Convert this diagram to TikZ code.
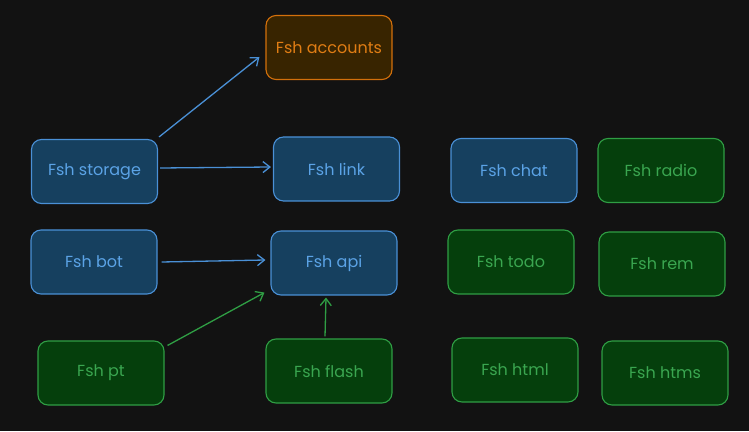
\documentclass[tikz,border=0pt]{standalone}
\usepackage{fontspec}
\setmainfont{Poppins}
\usetikzlibrary{arrows.meta}
\definecolor{bg}{HTML}{121212}
\definecolor{bluefill}{HTML}{16405F}
\definecolor{bluestroke}{HTML}{4A90D6}
\definecolor{bluetext}{HTML}{5BA3E6}
\definecolor{greenfill}{HTML}{053F0C}
\definecolor{greenstroke}{HTML}{2F9E44}
\definecolor{greentext}{HTML}{3AA650}
\definecolor{orangefill}{HTML}{382400}
\definecolor{orangestroke}{HTML}{D3700B}
\definecolor{orangetext}{HTML}{E07D14}
\tikzset{
  x=1pt,y=1pt,
  box/.style={rounded corners=10pt, minimum width=126pt, minimum height=64pt, line width=1.1pt, inner sep=0pt, font=\fontsize{16}{18}\selectfont},
  bluebox/.style={box, draw=bluestroke, fill=bluefill, text=bluetext},
  greenbox/.style={box, draw=greenstroke, fill=greenfill, text=greentext},
  orangebox/.style={box, draw=orangestroke, fill=orangefill, text=orangetext},
  bluearrow/.style={draw=bluestroke, line width=1.3pt, -{Straight Barb[length=7pt,width=11pt]}},
  greenarrow/.style={draw=greenstroke, line width=1.3pt, -{Straight Barb[length=7pt,width=11pt]}},
}
\begin{document}
\begin{tikzpicture}
\fill[bg] (0,0) rectangle (749,431);
\useasboundingbox (0,0) rectangle (749,431);
\node[orangebox] (accounts) at (329,383.5) {Fsh accounts};
\node[bluebox] (storage) at (94.5,259.5) {Fsh storage};
\node[bluebox] (link) at (336.5,262) {Fsh link};
\node[bluebox] (chat) at (514,260.5) {Fsh chat};
\node[greenbox] (radio) at (661,260.5) {Fsh radio};
\node[bluebox] (bot) at (94,169) {Fsh bot};
\node[bluebox] (api) at (334,168) {Fsh api};
\node[greenbox] (todo) at (511,169) {Fsh todo};
\node[greenbox] (rem) at (662,167) {Fsh rem};
\node[greenbox] (pt) at (101,58) {Fsh pt};
\node[greenbox] (flash) at (329,60) {Fsh flash};
\node[greenbox] (html) at (515,61) {Fsh html};
\node[greenbox] (htms) at (665,58) {Fsh htms};
\draw[bluearrow] ([xshift=1pt,yshift=2pt]storage.north east) -- ([xshift=-6pt,yshift=-9.5pt]accounts.west);
\draw[bluearrow] ([xshift=2pt,yshift=3.5pt]storage.east) -- ([xshift=-2pt,yshift=2pt]link.west);
\draw[bluearrow] ([xshift=4pt]bot.east) -- ([xshift=-5pt,yshift=3pt]api.west);
\draw[greenarrow] ([xshift=3pt,yshift=-5pt]pt.north east) -- ([xshift=-6pt,yshift=3pt]api.south west);
\draw[greenarrow] ([xshift=-4pt,yshift=2pt]flash.north) -- ([xshift=-8pt,yshift=-2pt]api.south);
\end{tikzpicture}
\end{document}
